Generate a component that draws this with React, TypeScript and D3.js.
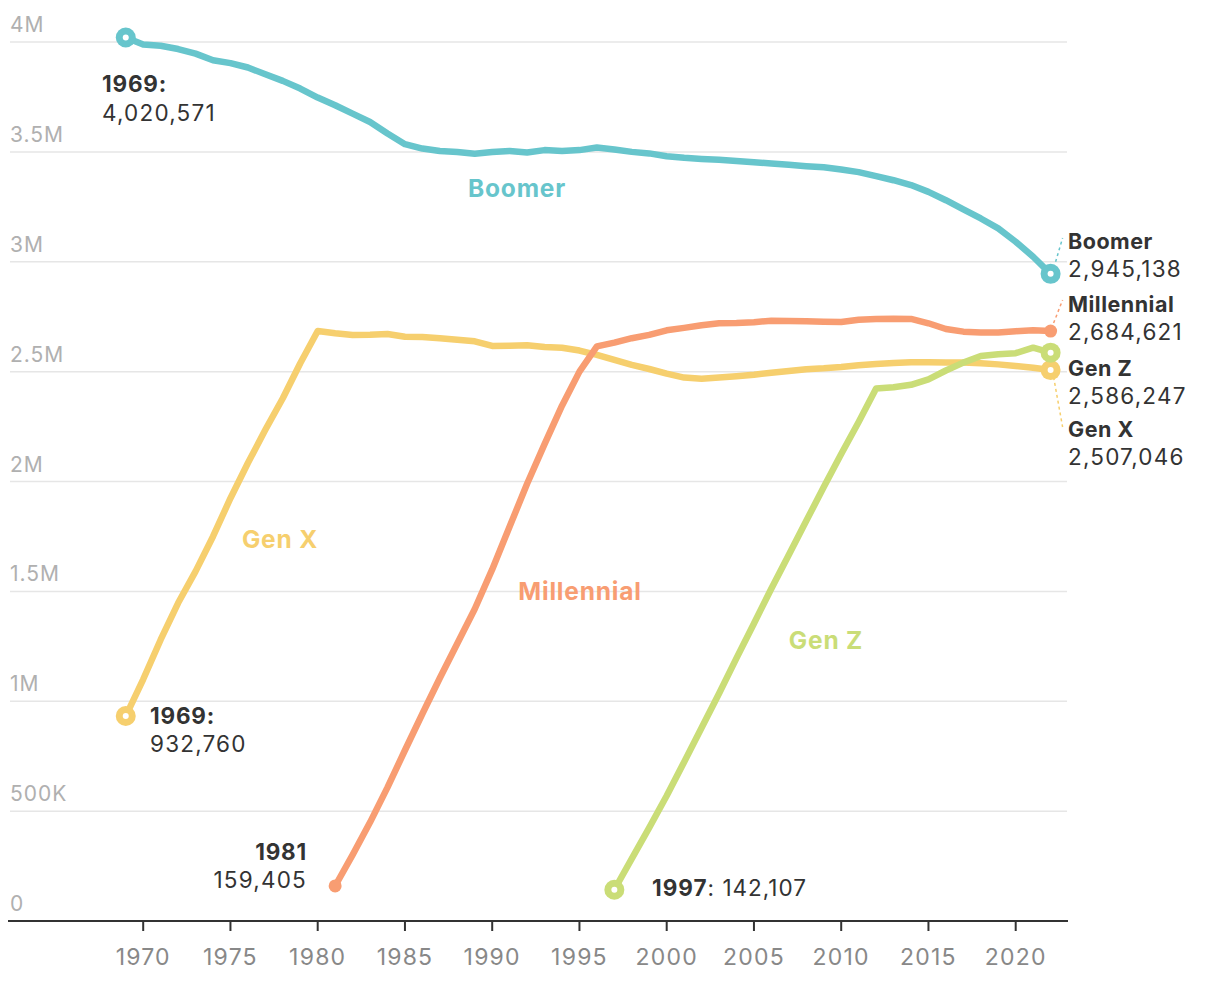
import React from "react";
import * as d3 from "d3";

// population by generation, one value per year
const boomerStart = 1969;
const boomerValues = [
  4020571, 3989000, 3983000, 3968000, 3947000, 3917000, 3904000, 3884000, 3853000, 3823000,
  3788000, 3747000, 3712000, 3674000, 3636000, 3584000, 3535000, 3515000, 3504000, 3499000,
  3491000, 3499000, 3504000, 3497000, 3508000, 3504000, 3508000, 3520000, 3511000, 3500000,
  3493000, 3480000, 3473000, 3468000, 3464000, 3459000, 3453000, 3447000, 3441000, 3435000,
  3430000, 3420000, 3408000, 3390000, 3371000, 3349000, 3318000, 3280000, 3238000, 3197000,
  3152000, 3091000, 3023000, 2945138,
];

const genXStart = 1969;
const genXValues = [
  932760, 1100000, 1280000, 1447000, 1591000, 1750000, 1924000, 2084000, 2235000, 2379000,
  2538000, 2685000, 2675000, 2667000, 2668000, 2671000, 2659000, 2658000, 2652000, 2645000,
  2638000, 2617000, 2618000, 2620000, 2612000, 2609000, 2596000, 2576000, 2553000, 2531000,
  2512000, 2491000, 2473000, 2468000, 2473000, 2479000, 2486000, 2495000, 2503000, 2511000,
  2515000, 2521000, 2529000, 2535000, 2539000, 2543000, 2543000, 2542000, 2541000, 2538000,
  2533000, 2526000, 2518000, 2507046,
];

const millennialStart = 1981;
const millennialValues = [
  159405, 301000, 449000, 608000, 777000, 943000, 1106000, 1263000, 1420000, 1600000,
  1795000, 1990000, 2170000, 2345000, 2500000, 2615000, 2632000, 2652000, 2667000, 2688000,
  2699000, 2711000, 2720000, 2721000, 2725000, 2732000, 2730000, 2729000, 2727000, 2726000,
  2736000, 2740000, 2741000, 2740000, 2720000, 2694000, 2682000, 2678000, 2678000, 2684000,
  2688000, 2684621,
];

const genZStart = 1997;
const genZValues = [
  142107, 284000, 425000, 570000, 724000, 879000, 1035000, 1196000, 1354000, 1513000,
  1667000, 1821000, 1975000, 2125000, 2271000, 2423000, 2429000, 2440000, 2465000, 2505000,
  2541000, 2571000, 2579000, 2584000, 2609000, 2586247,
];

const yTicks = [0, 500000, 1000000, 1500000, 2000000, 2500000, 3000000, 3500000, 4000000];
const yTickLabels = ["0", "500K", "1M", "1.5M", "2M", "2.5M", "3M", "3.5M", "4M"];
const xTicks = [1970, 1975, 1980, 1985, 1990, 1995, 2000, 2005, 2010, 2015, 2020];

const colors = {
  boomer: "#67c5cc",
  genX: "#f6cf6e",
  millennial: "#f89d72",
  genZ: "#cadd77",
};

const font = "Inter, 'DejaVu Sans', sans-serif";
const dark = "#333";
const fmt = d3.format(",");

const width = 1220;
const height = 982;

const x = d3.scaleLinear().domain([1970, 2020]).range([143.2, 1015.7]);
const y = d3.scaleLinear().domain([0, 4000000]).range([921, 42]);

function toPoints(start: number, values: number[]) {
  return values.map((v, i) => ({ year: start + i, value: v }));
}

const series = [
  { key: "genX", name: "Gen X", data: toPoints(genXStart, genXValues), color: colors.genX, ring: true },
  { key: "millennial", name: "Millennial", data: toPoints(millennialStart, millennialValues), color: colors.millennial, ring: false },
  { key: "genZ", name: "Gen Z", data: toPoints(genZStart, genZValues), color: colors.genZ, ring: true },
  { key: "boomer", name: "Boomer", data: toPoints(boomerStart, boomerValues), color: colors.boomer, ring: true },
];

const line = d3
  .line<{ year: number; value: number }>()
  .x((d) => x(d.year))
  .y((d) => y(d.value));

function Marker({ year, value, color, ring }: { year: number; value: number; color: string; ring: boolean }) {
  if (!ring) return <circle cx={x(year)} cy={y(value)} r={6.5} fill={color} />;
  return (
    <g>
      <circle cx={x(year)} cy={y(value)} r={10} fill={color} />
      <circle cx={x(year)} cy={y(value)} r={3} fill="#fff" />
    </g>
  );
}

export default function App() {
  const last = (a: number[]) => a[a.length - 1];
  const endX = x(2022);

  // right-side labels
  const rightLabels = [
    { name: "Boomer", value: last(boomerValues), top: 249, color: colors.boomer, lead: [endX + 5, y(last(boomerValues)) - 12, endX + 12, 238] },
    { name: "Millennial", value: last(millennialValues), top: 312, color: colors.millennial, lead: [endX + 3, y(last(millennialValues)) - 8, endX + 12, 300] },
    { name: "Gen Z", value: last(genZValues), top: 376, color: colors.genZ, lead: null },
    { name: "Gen X", value: last(genXValues), top: 437, color: colors.genX, lead: [endX + 3, y(last(genXValues)) + 7, endX + 12, 427] },
  ];

  const lineLabel = { fontSize: 24.5, fontWeight: "bold" as const, letterSpacing: 0.8, textAnchor: "middle" as const };

  return (
    <svg
      width={width}
      height={height}
      style={{ position: "absolute", left: 0, top: 0, display: "block", background: "#fff" }}
      fontFamily={font}
    >
      {/* grid */}
      {yTicks.map((t, i) => (
        <g key={t}>
          {t > 0 && <line x1={10} x2={1067} y1={y(t)} y2={y(t)} stroke="#e6e6e6" strokeWidth={1.5} />}
          <text x={10} y={y(t) - 10} fontSize={21} letterSpacing={1} fill="#b0b0b0">
            {yTickLabels[i]}
          </text>
        </g>
      ))}

      {/* x axis */}
      <line x1={8} x2={1068} y1={y(0)} y2={y(0)} stroke={dark} strokeWidth={2} />
      {xTicks.map((t) => (
        <g key={t}>
          <line x1={x(t)} x2={x(t)} y1={y(0)} y2={y(0) + 10} stroke={dark} strokeWidth={2} />
          <text x={x(t)} y={965} fontSize={23} letterSpacing={1.2} fill="#888" textAnchor="middle">
            {t}
          </text>
        </g>
      ))}

      {/* lines */}
      {series.map((s) => (
        <path
          key={s.key}
          d={line(s.data) || ""}
          fill="none"
          stroke={s.color}
          strokeWidth={6.5}
          strokeLinejoin="round"
          strokeLinecap="round"
        />
      ))}

      {/* leaders */}
      {rightLabels.map((r) =>
        r.lead ? (
          <line
            key={r.name + "lead"}
            x1={r.lead[0]}
            y1={r.lead[1]}
            x2={r.lead[2]}
            y2={r.lead[3]}
            stroke={r.color}
            strokeWidth={1.5}
            strokeDasharray="3,3"
          />
        ) : null
      )}

      {/* markers */}
      {series.map((s) => {
        const a = s.data[0];
        const b = s.data[s.data.length - 1];
        return (
          <g key={s.key + "m"}>
            <Marker year={a.year} value={a.value} color={s.color} ring={s.ring} />
            <Marker year={b.year} value={b.value} color={s.color} ring={s.ring} />
          </g>
        );
      })}

      {/* series names on the lines */}
      <text x={517} y={197} {...lineLabel} fill={colors.boomer}>Boomer</text>
      <text x={280} y={548} {...lineLabel} fill={colors.genX}>Gen X</text>
      <text x={580} y={600} {...lineLabel} fill={colors.millennial}>Millennial</text>
      <text x={826} y={649} {...lineLabel} fill={colors.genZ}>Gen Z</text>

      {/* start annotations */}
      <g fontSize={22.5} fill={dark}>
        <text x={102} y={92} fontWeight="bold" letterSpacing={0.8}>{boomerStart}:</text>
        <text x={102} y={121} letterSpacing={1.2}>{fmt(boomerValues[0])}</text>

        <text x={150} y={724} fontWeight="bold" letterSpacing={0.8}>{genXStart}:</text>
        <text x={150} y={752} letterSpacing={1.2}>{fmt(genXValues[0])}</text>

        <text x={307} y={860} fontWeight="bold" textAnchor="end" letterSpacing={0.8}>{millennialStart}</text>
        <text x={307} y={888} textAnchor="end" letterSpacing={1.2}>{fmt(millennialValues[0])}</text>

        <text x={652} y={896} letterSpacing={1}>
          <tspan fontWeight="bold">{genZStart}</tspan>
          <tspan>: {fmt(genZValues[0])}</tspan>
        </text>
      </g>

      {/* end annotations */}
      <g fontSize={22.5} fill={dark}>
        {rightLabels.map((r) => (
          <g key={r.name}>
            <text x={1068} y={r.top} fontWeight="bold" fontSize={21.5} letterSpacing={0.5}>{r.name}</text>
            <text x={1068} y={r.top + 28} letterSpacing={1.2}>{fmt(r.value)}</text>
          </g>
        ))}
      </g>
    </svg>
  );
}
